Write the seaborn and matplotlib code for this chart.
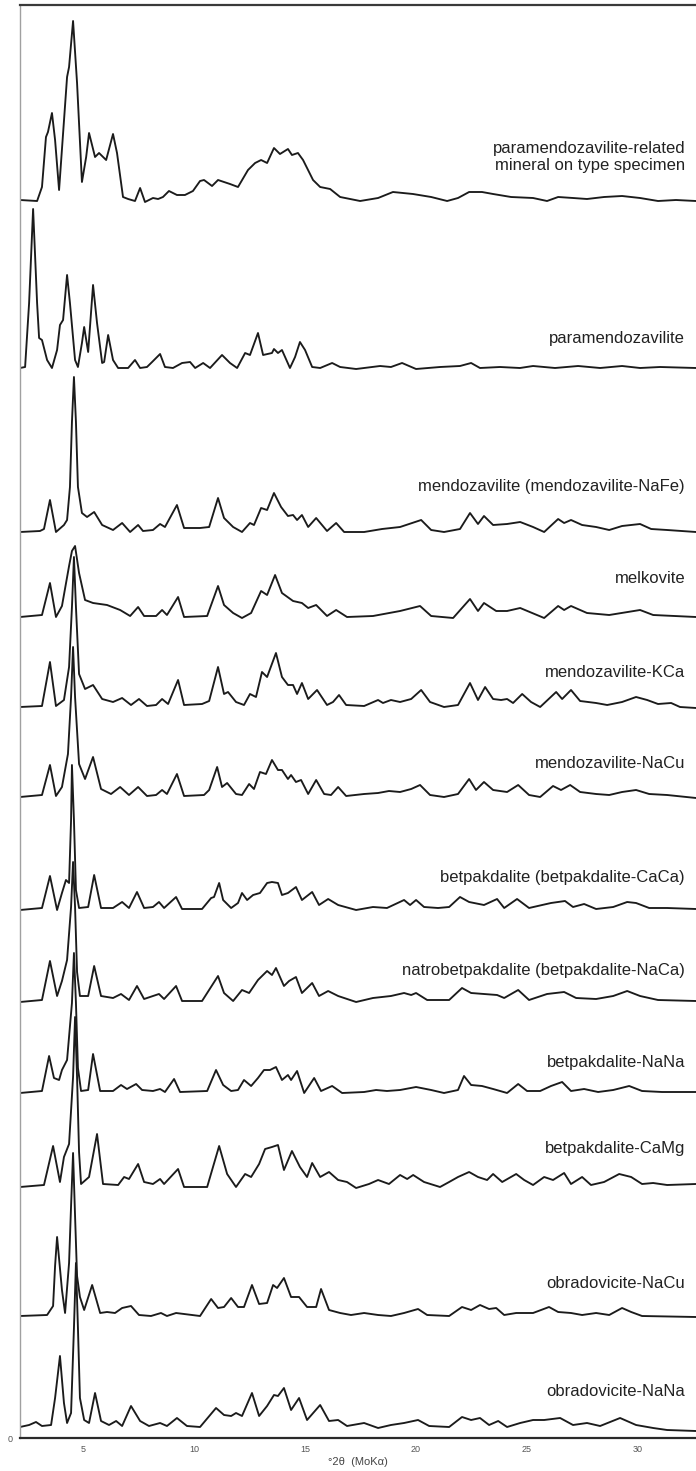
import matplotlib
matplotlib.use("Agg")
import matplotlib.pyplot as plt
import seaborn as sns
import pandas as pd

# ---------------- data (2theta, intensity above own baseline) ----------------
names = [
    "paramendozavilite-related\nmineral on type specimen",
    "paramendozavilite",
    "mendozavilite (mendozavilite-NaFe)",
    "melkovite",
    "mendozavilite-KCa",
    "mendozavilite-NaCu",
    "betpakdalite (betpakdalite-CaCa)",
    "natrobetpakdalite (betpakdalite-NaCa)",
    "betpakdalite-NaNa",
    "betpakdalite-CaMg",
    "obradovicite-NaCu",
    "obradovicite-NaNa",
]
offsets = [1238, 1070, 906, 821, 731, 641, 528, 436, 345, 251, 122, 10]
label_y = [1281, 1100, 952, 860, 766, 675, 561, 468, 376, 290, 155, 46]

tt_pmr = [2.16, 2.93, 3.15, 3.33, 3.42, 3.60, 3.74, 3.92, 4.28, 4.37, 4.55, 4.73, 4.95, 5.14, 5.27, 5.54,
          5.72, 6.04, 6.35, 6.53, 6.80, 7.03, 7.34, 7.57, 7.79, 8.15, 8.38, 8.60, 8.87, 9.23, 9.59, 9.95,
          10.27, 10.45, 10.81, 11.08, 11.62, 11.98, 12.43, 12.75, 13.02, 13.29, 13.60, 13.87, 14.23, 14.41,
          14.68, 14.91, 15.36, 15.68, 16.13, 16.58, 17.48, 18.29, 18.96, 19.86, 20.68, 21.40, 21.89, 22.39,
          22.97, 23.47, 24.28, 25.27, 25.90, 26.40, 27.07, 27.70, 28.47, 29.28, 30.09, 30.90, 31.71, 32.61]
ii_pmr = [0, -1, 13, 63, 68, 87, 60, 10, 123, 133, 179, 117, 18, 43, 67, 43,
          47, 40, 66, 47, 3, 1, -1, 12, -2, 2, 1, 3, 9, 5, 5, 9,
          19, 20, 14, 20, 16, 13, 30, 37, 40, 37, 52, 46, 51, 45,
          47, 40, 20, 13, 11, 3, -1, 2, 8, 6, 3, -1, 2, 8,
          8, 6, 3, 2, -1, 3, 2, 1, 3, 4, 2, -1, 0, -1]

tt_pmz = [2.16, 2.39, 2.57, 2.75, 2.93, 3.02, 3.15, 3.38, 3.60, 3.83, 3.96, 4.10, 4.28, 4.41, 4.64, 4.77,
          4.95, 5.05, 5.23, 5.45, 5.63, 5.86, 5.95, 6.13, 6.35, 6.58, 7.03, 7.34, 7.57, 7.88, 8.11, 8.47,
          8.69, 9.05, 9.46, 9.82, 10.05, 10.41, 10.72, 11.26, 11.62, 11.94, 12.30, 12.52, 12.88, 13.11,
          13.51, 13.60, 13.78, 13.96, 14.32, 14.55, 14.77, 15.00, 15.32, 15.68, 16.22, 16.58, 17.30, 18.38,
          18.87, 19.37, 20.00, 21.08, 21.98, 22.48, 22.88, 23.78, 24.68, 25.27, 26.26, 27.30, 28.29, 29.28,
          30.09, 30.99, 32.61]
ii_pmz = [0, 1, 65, 159, 65, 30, 28, 8, 0, 18, 43, 48, 93, 65, 8, 1,
          25, 41, 16, 83, 45, 5, 6, 33, 8, 0, 0, 8, 0, 1, 6, 14,
          1, 0, 5, 6, 0, 5, 0, 13, 5, 0, 15, 13, 35, 13,
          15, 19, 15, 18, 0, 11, 26, 18, 1, 0, 5, 1, -1, 2,
          1, 5, -1, 1, 2, 5, 0, 1, 0, 2, 0, 2, 0, 2,
          0, 1, 0]

tt_mz = [2.16, 3.06, 3.24, 3.51, 3.78, 4.14, 4.28, 4.41, 4.50, 4.59, 4.68, 4.77, 4.95, 5.18, 5.50, 5.86,
         6.35, 6.76, 7.12, 7.48, 7.70, 8.15, 8.47, 8.69, 9.23, 9.55, 10.27, 10.68, 11.08, 11.35, 11.76,
         12.16, 12.52, 12.70, 13.02, 13.29, 13.60, 13.92, 14.23, 14.46, 14.64, 14.86, 15.14, 15.50, 15.99,
         16.40, 16.76, 17.66, 18.47, 19.28, 20.23, 20.68, 21.26, 21.98, 22.43, 22.79, 23.06, 23.47, 24.10,
         24.69, 25.27, 25.77, 26.40, 26.67, 26.98, 27.48, 28.11, 28.70, 29.28, 30.09, 30.59, 31.31, 32.61]
ii_mz = [0, 1, 3, 32, 0, 7, 12, 45, 110, 155, 110, 45, 19, 15, 20, 7,
         2, 9, 0, 7, 1, 2, 8, 5, 27, 4, 4, 5, 34, 14, 5,
         0, 9, 7, 24, 22, 39, 25, 16, 17, 12, 17, 5, 14, 1,
         9, 0, 0, 3, 5, 12, 2, 0, 3, 19, 8, 16, 7, 8,
         10, 5, 0, 13, 9, 12, 7, 5, 2, 6, 8, 3, 2, 0]

tt_mk = [2.16, 3.15, 3.51, 3.78, 4.05, 4.37, 4.50, 4.64, 4.82, 5.09, 5.45, 6.08, 6.67, 7.12, 7.48, 7.75,
         8.29, 8.56, 8.78, 9.28, 9.55, 10.59, 11.08, 11.35, 11.76, 12.16, 12.57, 13.02, 13.29, 13.65,
         13.96, 14.46, 14.86, 15.14, 15.50, 15.99, 16.40, 16.89, 18.06, 19.28, 20.18, 20.68, 21.67, 22.43,
         22.79, 23.06, 23.61, 24.10, 24.69, 25.77, 26.40, 26.67, 26.98, 27.70, 28.70, 30.09, 30.68, 32.61]
ii_mk = [0, 2, 34, 0, 11, 51, 66, 71, 44, 17, 14, 12, 7, 1, 10, 1,
         1, 7, 2, 20, 0, 1, 31, 12, 4, -1, 4, 26, 22, 42,
         24, 16, 14, 9, 12, 1, 7, 0, 1, 6, 11, 1, -1, 18,
         6, 14, 6, 6, 9, -1, 11, 7, 11, 4, 2, 7, 2, 0]

tt_kca = [2.16, 3.15, 3.51, 3.78, 4.14, 4.37, 4.50, 4.59, 4.68, 4.82, 5.09, 5.45, 5.86, 6.35, 6.76, 7.16,
          7.52, 7.88, 8.29, 8.56, 8.83, 9.28, 9.55, 10.36, 10.68, 11.08, 11.35, 11.53, 11.89, 12.25, 12.52,
          12.79, 13.06, 13.29, 13.69, 13.96, 14.23, 14.46, 14.64, 14.86, 15.14, 15.54, 15.99, 16.26, 16.53,
          16.85, 17.66, 18.29, 18.51, 18.87, 19.28, 19.78, 20.23, 20.63, 21.26, 21.89, 22.43, 22.79, 23.11,
          23.47, 23.83, 24.10, 24.37, 24.78, 25.18, 25.59, 26.31, 26.58, 26.98, 27.39, 28.11, 28.61, 29.28,
          29.91, 30.41, 30.90, 31.49, 31.89, 32.61]
ii_kca = [0, 1, 45, 1, 7, 40, 100, 150, 100, 33, 18, 22, 8, 5, 9, 2,
          8, 1, 2, 8, 3, 27, 2, 3, 6, 40, 13, 15, 5, 2, 13,
          10, 35, 30, 54, 30, 22, 22, 13, 24, 8, 17, 2, 5, 12,
          2, 1, 7, 4, 7, 5, 8, 17, 5, 0, 2, 24, 7, 20,
          8, 7, 8, 4, 13, 5, 0, 15, 8, 17, 6, 4, 2, 5,
          10, 7, 3, 4, 0, -1]

tt_nacu = [2.16, 3.15, 3.51, 3.78, 4.05, 4.32, 4.46, 4.55, 4.64, 4.82, 5.09, 5.45, 5.81, 6.26, 6.67, 7.07,
           7.48, 7.88, 8.29, 8.56, 8.78, 9.23, 9.55, 10.45, 10.68, 11.04, 11.26, 11.49, 11.89, 12.16, 12.48,
           12.70, 12.97, 13.24, 13.51, 13.78, 13.96, 14.23, 14.37, 14.59, 14.82, 15.14, 15.50, 15.86, 16.17,
           16.49, 16.85, 17.66, 18.29, 18.78, 19.28, 19.78, 20.18, 20.63, 21.26, 21.89, 22.39, 22.70, 23.06,
           23.47, 24.10, 24.60, 25.09, 25.59, 26.17, 26.53, 26.94, 27.39, 28.11, 28.70, 29.28, 29.91, 30.50,
           31.31, 32.61]
ii_nacu = [0, 2, 32, 1, 10, 43, 100, 150, 100, 33, 18, 40, 8, 3, 10, 2,
           10, 1, 2, 7, 3, 23, 1, 2, 7, 30, 10, 14, 3, 2, 13,
           8, 25, 23, 37, 27, 27, 18, 22, 15, 17, 3, 17, 3, 2,
           10, 1, 3, 4, 6, 5, 8, 12, 2, 0, 3, 18, 7, 15,
           7, 5, 12, 2, 0, 11, 7, 12, 5, 3, 2, 5, 7, 3,
           2, -1]

tt_caca = [2.16, 3.15, 3.51, 3.83, 4.05, 4.23, 4.37, 4.46, 4.50, 4.59, 4.68, 4.82, 5.23, 5.50, 5.81, 6.35,
           6.76, 7.07, 7.43, 7.75, 8.15, 8.42, 8.65, 9.19, 9.46, 10.36, 10.77, 10.90, 11.13, 11.31, 11.67,
           11.98, 12.16, 12.39, 12.66, 12.97, 13.29, 13.51, 13.78, 13.96, 14.23, 14.59, 14.86, 15.32, 15.63,
           16.04, 16.49, 17.30, 18.06, 18.69, 19.46, 19.73, 20.00, 20.36, 20.99, 21.49, 21.98, 22.39, 23.06,
           23.65, 23.97, 24.55, 25.09, 25.68, 26.08, 26.71, 27.07, 27.57, 28.11, 28.88, 29.51, 29.91, 30.50,
           31.31, 32.61]
ii_caca = [0, 2, 34, 0, 17, 30, 27, 90, 145, 90, 20, 2, 3, 35, 2, 2,
           8, 2, 18, 2, 3, 8, 2, 13, 1, 1, 12, 13, 27, 10, 2,
           7, 17, 10, 15, 17, 27, 28, 27, 15, 17, 23, 10, 18, 5,
           11, 5, 0, 3, 2, 10, 5, 10, 3, 2, 3, 13, 8, 5,
           11, 2, 11, 2, 5, 7, 9, 3, 6, 1, 3, 8, 7, 2,
           2, 1]

tt_naca = [2.16, 3.15, 3.51, 3.83, 4.05, 4.28, 4.46, 4.55, 4.64, 4.73, 4.86, 5.23, 5.50, 5.81, 6.35, 6.71,
           7.07, 7.43, 7.75, 8.15, 8.42, 8.65, 9.19, 9.46, 10.36, 11.08, 11.35, 11.76, 12.16, 12.48, 12.88,
           13.29, 13.51, 13.69, 14.05, 14.28, 14.59, 14.86, 15.32, 15.63, 16.04, 16.49, 17.30, 18.06, 18.87,
           19.46, 19.78, 20.00, 20.50, 21.49, 22.07, 22.48, 23.06, 23.65, 23.97, 24.60, 25.09, 25.90, 26.67,
           27.21, 28.11, 28.88, 29.51, 30.09, 30.90, 32.61]
ii_naca = [0, 2, 41, 6, 21, 42, 95, 140, 95, 30, 6, 6, 36, 6, 4, 8,
           2, 16, 3, 6, 8, 3, 16, 1, 1, 26, 9, 1, 12, 9, 22,
           31, 27, 34, 16, 21, 25, 9, 19, 6, 11, 6, 0, 4, 6,
           9, 7, 9, 2, 2, 14, 9, 8, 7, 4, 12, 2, 8, 10,
           4, 3, 6, 11, 6, 2, 1]

tt_nana = [2.16, 3.15, 3.47, 3.69, 3.92, 4.05, 4.28, 4.50, 4.59, 4.68, 4.77, 4.91, 5.23, 5.45, 5.77, 6.35,
           6.71, 6.98, 7.39, 7.66, 8.15, 8.47, 8.69, 9.10, 9.37, 10.59, 10.99, 11.31, 11.67, 11.98, 12.25,
           12.57, 12.88, 13.15, 13.42, 13.69, 13.96, 14.23, 14.37, 14.64, 14.96, 15.41, 15.72, 16.22, 16.67,
           17.66, 18.20, 18.69, 19.28, 20.00, 20.68, 21.26, 21.89, 22.16, 22.48, 22.97, 23.47, 24.10, 24.60,
           25.00, 25.59, 26.08, 26.58, 26.98, 27.57, 28.20, 28.88, 29.60, 30.18, 31.08, 32.61]
ii_nana = [0, 2, 37, 15, 13, 23, 33, 90, 140, 90, 25, 2, 3, 39, 2, 2,
           8, 4, 9, 3, 2, 4, 1, 14, 1, 2, 23, 8, 2, 3, 13,
           7, 15, 23, 23, 26, 13, 18, 13, 22, 0, 15, 2, 7, 0,
           1, 3, 2, 3, 6, 3, 0, 3, 17, 8, 7, 4, 0, 9,
           2, 2, 7, 11, 2, 4, 1, 3, 7, 2, 1, 1]

tt_camg = [2.16, 3.24, 3.65, 3.96, 4.14, 4.37, 4.55, 4.64, 4.73, 4.82, 4.91, 5.27, 5.63, 5.90, 6.58, 6.85,
           7.07, 7.48, 7.75, 8.15, 8.47, 8.65, 9.28, 9.55, 10.59, 11.13, 11.49, 11.89, 12.30, 12.57, 12.93,
           13.20, 13.51, 13.78, 14.05, 14.41, 14.77, 15.09, 15.32, 15.68, 16.08, 16.49, 16.89, 17.30, 17.88,
           18.29, 18.78, 19.28, 19.60, 19.87, 20.36, 21.08, 21.49, 21.89, 22.39, 22.79, 23.20, 23.47, 23.88,
           24.51, 24.87, 25.27, 25.77, 26.17, 26.67, 26.98, 27.48, 27.88, 28.47, 29.15, 29.69, 30.18, 30.68,
           31.31, 32.61]
ii_camg = [0, 2, 41, 5, 30, 43, 110, 170, 110, 35, 3, 10, 53, 3, 2, 10,
           8, 23, 5, 3, 8, 3, 18, 0, 0, 41, 13, 0, 13, 10, 23,
           38, 40, 42, 17, 36, 20, 10, 24, 10, 15, 7, 5, -1, 3,
           7, 3, 12, 8, 12, 5, 0, 5, 10, 15, 10, 7, 13, 5,
           13, 7, 2, 10, 7, 14, 3, 10, 2, 5, 13, 10, 3, 4,
           2, 3]

tt_obcu = [2.16, 3.38, 3.65, 3.74, 3.83, 4.05, 4.19, 4.37, 4.46, 4.55, 4.64, 4.73, 4.86, 5.05, 5.41, 5.77,
           6.08, 6.44, 6.76, 7.16, 7.52, 8.06, 8.51, 8.78, 9.19, 10.27, 10.77, 11.08, 11.35, 11.67, 11.98,
           12.25, 12.61, 12.93, 13.29, 13.56, 13.74, 14.05, 14.37, 14.73, 15.09, 15.50, 15.72, 16.08, 16.58,
           17.07, 17.66, 18.29, 18.87, 19.46, 20.09, 20.50, 21.49, 22.07, 22.48, 22.88, 23.29, 23.61, 23.97,
           24.51, 25.27, 25.99, 26.40, 26.98, 27.48, 28.11, 28.70, 29.28, 29.69, 30.18, 32.61]
ii_obcu = [0, 1, 10, 50, 79, 26, 3, 53, 110, 163, 100, 40, 19, 6, 31, 3,
           4, 3, 8, 10, 1, 0, 3, 0, 3, 0, 17, 8, 9, 18, 9,
           9, 31, 12, 13, 31, 28, 38, 19, 19, 9, 9, 27, 6, 3,
           1, 3, 1, 0, 3, 7, 1, 0, 9, 6, 11, 7, 8, 1,
           3, 3, 9, 4, 3, 1, 3, 1, 8, 4, 0, -1]

tt_obna = [2.16, 2.57, 2.88, 3.15, 3.56, 3.74, 3.96, 4.14, 4.28, 4.46, 4.59, 4.68, 4.77, 4.86, 5.05, 5.27,
           5.54, 5.81, 6.17, 6.49, 6.76, 7.16, 7.57, 7.97, 8.47, 8.78, 9.23, 9.68, 10.27, 10.99, 11.35,
           11.67, 11.89, 12.16, 12.61, 12.93, 13.29, 13.60, 13.78, 14.05, 14.37, 14.73, 15.09, 15.68, 16.08,
           16.49, 16.89, 17.66, 18.29, 18.87, 19.46, 20.09, 20.59, 21.49, 22.07, 22.48, 22.88, 23.29, 23.70,
           24.10, 24.69, 25.27, 25.77, 26.49, 27.07, 27.70, 28.29, 29.19, 29.91, 30.68, 31.31, 32.61]
ii_obna = [1, 3, 6, 2, 3, 30, 72, 25, 5, 15, 100, 165, 100, 30, 8, 5,
           35, 7, 3, 7, 2, 22, 7, 2, 5, 2, 10, 2, 1, 20, 13,
           12, 15, 12, 35, 12, 22, 33, 32, 40, 18, 30, 8, 23, 7,
           8, 2, 5, 0, 3, 5, 8, 2, 1, 11, 8, 10, 3, 7,
           1, 5, 8, 8, 10, 3, 5, 2, 10, 3, 0, -2, -3]

traces_tt = [tt_pmr, tt_pmz, tt_mz, tt_mk, tt_kca, tt_nacu, tt_caca, tt_naca, tt_nana, tt_camg, tt_obcu, tt_obna]
traces_ii = [ii_pmr, ii_pmz, ii_mz, ii_mk, ii_kca, ii_nacu, ii_caca, ii_naca, ii_nana, ii_camg, ii_obcu, ii_obna]

x_ticks = [5, 10, 15, 20, 25, 30]

# ---------------- figure ----------------
sns.set_style("white")
plt.rcParams['font.family'] = ['Liberation Sans', 'DejaVu Sans']

W, H = 696, 1471
fig = plt.figure(figsize=(W / 100, H / 100), dpi=100)
ax = fig.add_axes([20 / W, 1 - 1438 / H, 676 / W, (1438 - 5) / H])

line_col = "#1b1b1b"
for name, off, tt, ii in zip(names, offsets, traces_tt, traces_ii):
    df = pd.DataFrame({"tt": tt, "I": [off + v for v in ii]})
    sns.lineplot(data=df, x="tt", y="I", ax=ax, color=line_col, lw=1.35,
                 estimator=None, sort=False, solid_joinstyle="round", solid_capstyle="round")

for name, ly in zip(names, label_y):
    ax.text(32.12, ly, name, ha="right", va="center", fontsize=12, color="#222222",
            linespacing=1.15)

ax.set_xlim(2.16, 32.61)
ax.set_ylim(0, 1433)
ax.set_xticks(x_ticks)
ax.set_xticklabels([str(t) for t in x_ticks])
ax.set_yticks([0])
ax.set_yticklabels(["0"])
ax.tick_params(axis="both", length=0, labelsize=6.5, labelcolor="#555555", pad=5)
ax.set_xlabel("°2θ  (MoKα)", fontsize=8, color="#444444", labelpad=2)
ax.set_ylabel("")

ax.spines["right"].set_visible(False)
ax.spines["top"].set_color("#3a3a3a")
ax.spines["top"].set_linewidth(1.6)
ax.spines["bottom"].set_color("#2a2a2a")
ax.spines["bottom"].set_linewidth(1.6)
ax.spines["left"].set_color("#a0a0a0")
ax.spines["left"].set_linewidth(1.0)

fig.savefig("out.png", dpi=100)
